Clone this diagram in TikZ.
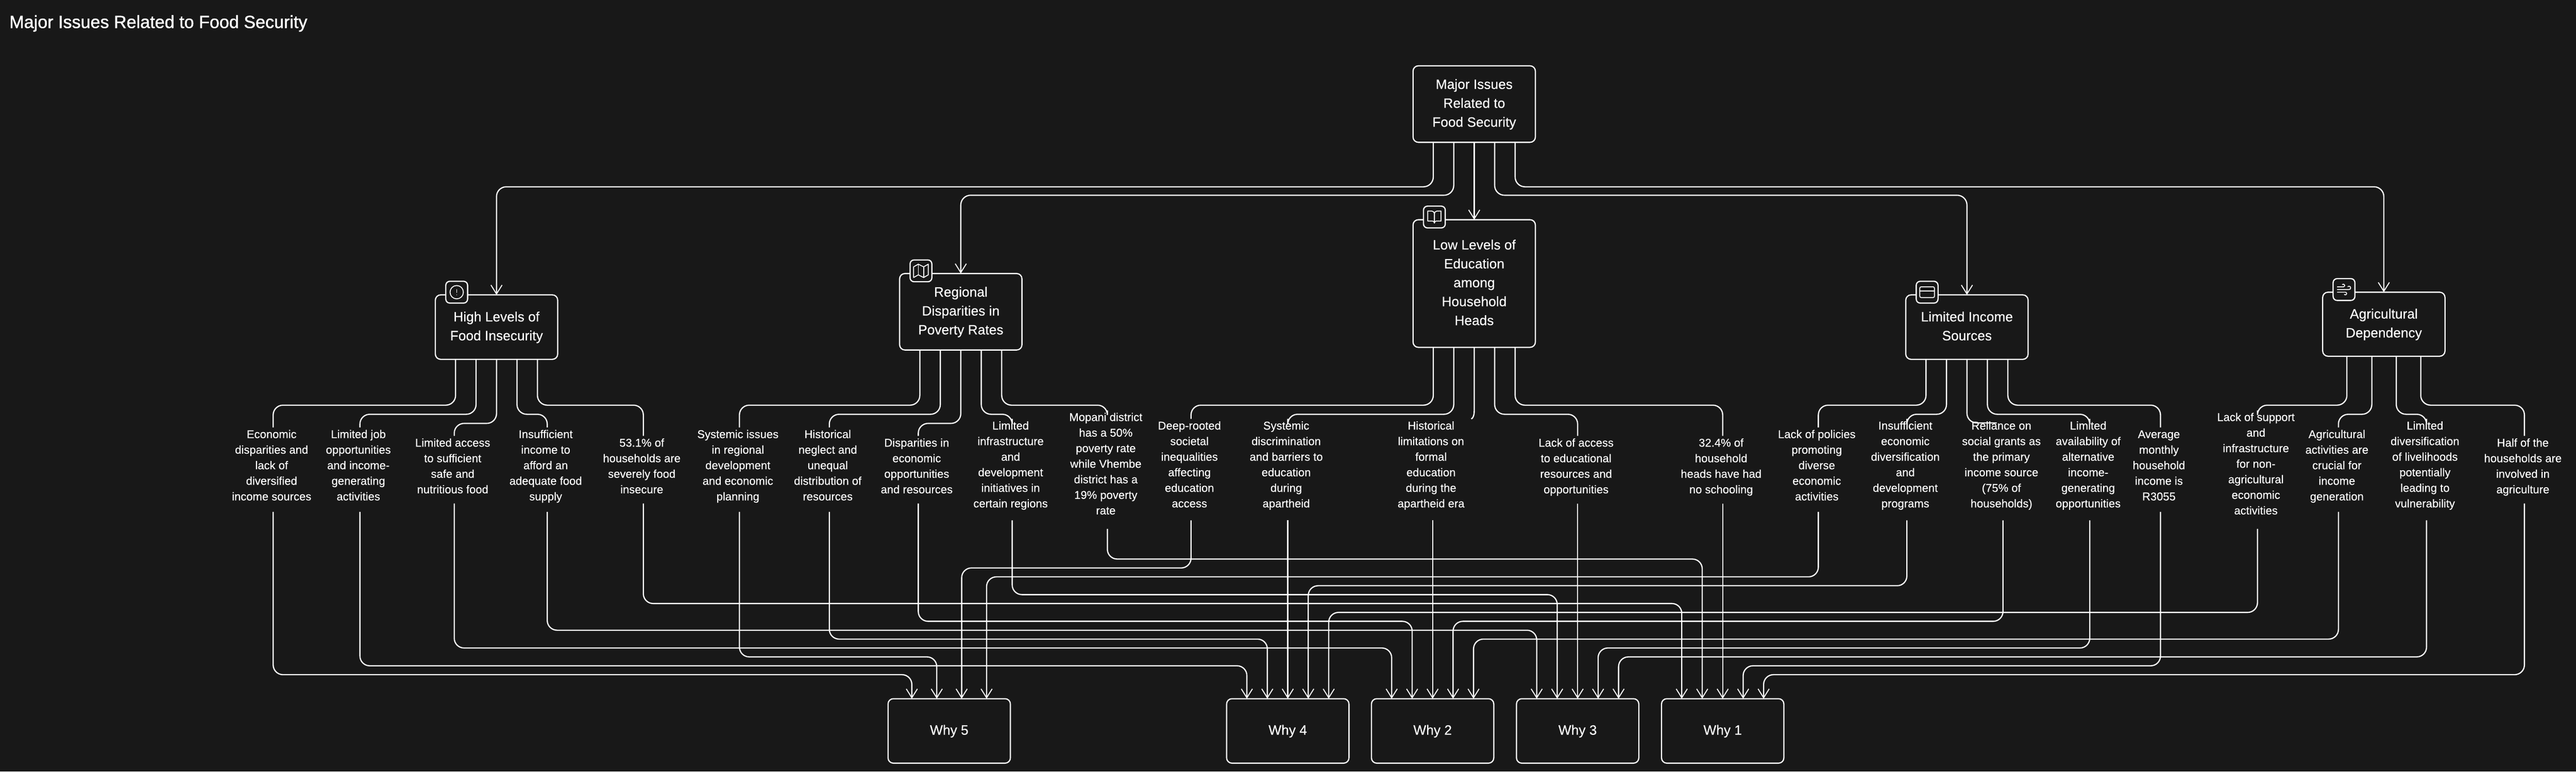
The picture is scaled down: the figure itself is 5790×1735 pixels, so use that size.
\documentclass[tikz,border=0pt]{standalone}
\usepackage{fontspec}
\setmainfont{Liberation Sans}[FakeBold=0.25]
\newfontfamily\titlefont{Liberation Sans}[FakeBold=1.2]
\usepackage{xcolor}
\usetikzlibrary{arrows.meta}
\definecolor{pagedark}{HTML}{181818}

\tikzset{
  boxnode/.style={draw=white, line width=2.7pt, rounded corners=12pt, minimum width=275pt,
    align=center, outer sep=0pt, inner sep=0pt, text=white, fill=pagedark,
    font=\fontsize{30.5}{42.5}\selectfont},
  leaf/.style={align=center, outer sep=0pt, inner sep=0pt, text=white,
    font=\fontsize{25.5}{35}\selectfont},
  iconbox/.style={draw=white, line width=2.7pt, rounded corners=9pt, minimum size=49pt,
    inner sep=0pt, outer sep=0pt, fill=pagedark},
  glyph/.style={shift={(#1)}, x=1.5pt, y=-1.5pt, xshift=-18pt, yshift=18pt,
    draw=white, line width=2pt, line join=round, line cap=round},
  link/.style={draw=white, line width=2.7pt, rounded corners=22pt},
  arrowlink/.style={link, -{Straight Barb[length=20pt, width=25pt, line width=2.2pt]}}
}
% text with fixed first and last line heights
\newcommand{\struttext}[1]{\strut#1\strut}
% leaf label with its two connector ends: id, x, number of lines, text
\newcommand{\leafnode}[4]{
  \pgfmathsetmacro{\halfspan}{95+19*(#3-5)}
  \pgfmathsetmacro{\ytext}{1049.8-1.7*(#3-4)}
  \coordinate (#1-t) at (#2,1056-\halfspan);
  \coordinate (#1-b) at (#2,1056+\halfspan);
  \node[leaf] (#1) at (#2-3.5,\ytext) {\struttext{#4}};
}

\begin{document}
\begin{tikzpicture}[x=1pt, y=-1pt]
  \fill[pagedark] (0,0) rectangle (5790,1735);
  \useasboundingbox (0,0) rectangle (5790,1735);
  \node[anchor=base west, inner sep=0pt, text=white, font=\titlefont\fontsize{39.5}{42}\selectfont] (title) at (21,63)
    {Major Issues Related to Food Security};

  % Main boxes
  \node[boxnode, minimum height=172pt] (root) at (3313.5,234) {\struttext{Major Issues\\Related to\\Food Security}};
  \node[boxnode, minimum height=145pt] (high) at (1116,735.5) {\struttext{High Levels of\\Food Insecurity}};
  \node[boxnode, minimum height=172pt] (regional) at (2159.5,701) {\struttext{Regional\\Disparities in\\Poverty Rates}};
  \node[boxnode, minimum height=287pt] (low) at (3313.5,637.5) {\struttext{Low Levels of\\Education\\among\\Household\\Heads}};
  \node[boxnode, minimum height=145pt] (income) at (4421,735.5) {\struttext{Limited Income\\Sources}};
  \node[boxnode, minimum height=144pt] (agri) at (5358,729) {\struttext{Agricultural\\Dependency}};

  % Why boxes and their arrow positions
  \node[boxnode, minimum height=145pt] (why5) at (2133.5,1643.5) {\struttext{Why 5}};
  \node[boxnode, minimum height=145pt] (why4) at (2894.5,1643.5) {\struttext{Why 4}};
  \node[boxnode, minimum height=145pt] (why2) at (3220,1643.5) {\struttext{Why 2}};
  \node[boxnode, minimum height=145pt] (why3) at (3546,1643.5) {\struttext{Why 3}};
  \node[boxnode, minimum height=145pt] (why1) at (3872,1643.5) {\struttext{Why 1}};
  \foreach \dx/\t in {-84/a, -28/b, 28/c, 84/d} {
    \coordinate (why5\t) at ([xshift=\dx pt]why5.north);
  }
  \foreach \w in {why4, why2, why3, why1} {
    \foreach \dx/\t in {-92/a, -46/b, 0/c, 46/d, 92/e} {
      \coordinate (\w\t) at ([xshift=\dx pt]\w.north);
    }
  }

  % Leaf labels
  \leafnode{eco}{614}{5}{Economic\\disparities and\\lack of\\diversified\\income sources}
  \leafnode{job}{809}{5}{Limited job\\opportunities\\and income-\\generating\\activities}
  \leafnode{access}{1021}{4}{Limited access\\to sufficient\\safe and\\nutritious food}
  \leafnode{insinc}{1230}{5}{Insufficient\\income to\\afford an\\adequate food\\supply}
  \leafnode{foodpct}{1446}{4}{53.1\% of\\households are\\severely food\\insecure}
  \leafnode{sysiss}{1662}{5}{Systemic issues\\in regional\\development\\and economic\\planning}
  \leafnode{neglect}{1864}{5}{Historical\\neglect and\\unequal\\distribution of\\resources}
  \leafnode{dispar}{2064}{4}{Disparities in\\economic\\opportunities\\and resources}
  \leafnode{infra}{2275}{6}{Limited\\infrastructure\\and\\development\\initiatives in\\certain regions}
  \leafnode{mopani}{2489}{7}{Mopani district\\has a 50\%\\poverty rate\\while Vhembe\\district has a\\19\% poverty\\rate}
  \leafnode{deep}{2677}{6}{Deep-rooted\\societal\\inequalities\\affecting\\education\\access}
  \leafnode{sysdisc}{2894.5}{6}{Systemic\\discrimination\\and barriers to\\education\\during\\apartheid}
  \leafnode{histlim}{3220}{6}{Historical\\limitations on\\formal\\education\\during the\\apartheid era}
  \leafnode{lackacc}{3546}{4}{Lack of access\\to educational\\resources and\\opportunities}
  \leafnode{school}{3872}{4}{32.4\% of\\household\\heads have had\\no schooling}
  \leafnode{lackpol}{4087}{5}{Lack of policies\\promoting\\diverse\\economic\\activities}
  \leafnode{insecon}{4286}{6}{Insufficient\\economic\\diversification\\and\\development\\programs}
  \leafnode{reliance}{4502}{6}{Reliance on\\social grants as\\the primary\\income source\\(75\% of\\households)}
  \leafnode{avail}{4697}{6}{Limited\\availability of\\alternative\\income-\\generating\\opportunities}
  \leafnode{avg}{4856}{5}{Average\\monthly\\household\\income is\\R3055}
  \leafnode{lacksup}{5074}{7}{Lack of support\\and\\infrastructure\\for non-\\agricultural\\economic\\activities}
  \leafnode{agriact}{5256}{5}{Agricultural\\activities are\\crucial for\\income\\generation}
  \leafnode{livediv}{5454}{6}{Limited\\diversification\\of livelihoods\\potentially\\leading to\\vulnerability}
  \leafnode{half}{5674}{4}{Half of the\\households are\\involved in\\agriculture}

  % Bus levels
  \coordinate (busP) at (0,420);
  \coordinate (busQ) at (0,439);
  \coordinate (busA) at (0,911);
  \coordinate (busB) at (0,931.5);
  \coordinate (busC) at (0,952);
  \foreach \i in {0,...,13} {
    \pgfmathsetmacro{\busy}{1257+20*\i}
    \coordinate (bus\i) at (0,\busy);
  }

  % Root edges
  \draw[arrowlink] ([xshift=-92pt]root.south) |- (high.north |- busP) -- (high.north);
  \draw[arrowlink] ([xshift=-46pt]root.south) |- (regional.north |- busQ) -- (regional.north);
  \draw[arrowlink] (root.south) -- (low.north);
  \draw[arrowlink] ([xshift=46pt]root.south) |- (income.north |- busQ) -- (income.north);
  \draw[arrowlink] ([xshift=92pt]root.south) |- (agri.north |- busP) -- (agri.north);

  % Edges down to the leaves
  \foreach \p/\dx/\bus/\leaf in {
    high/-92/busA/eco, high/-46/busB/job, high/0/busC/access, high/46/busB/insinc, high/92/busA/foodpct,
    regional/-92/busA/sysiss, regional/-46/busB/neglect, regional/0/busC/dispar, regional/46/busB/infra, regional/92/busA/mopani,
    low/-92/busA/deep, low/-46/busB/sysdisc, low/46/busB/lackacc, low/92/busA/school,
    income/-92/busA/lackpol, income/-46/busB/insecon, income/46/busB/avail, income/92/busA/avg,
    agri/-83/busA/lacksup, agri/-27/busB/agriact, agri/28/busB/livediv, agri/83/busA/half} {
    \draw[link] ([xshift=\dx pt]\p.south) |- (\leaf-t |- \bus) -- (\leaf-t);
  }
  \coordinate (histcut) at (3307,942);
  \draw[link, sharp corners] (low.south) -- (3313.5,924) .. controls (3313.5,934) and (3311,940) .. (histcut);
  \coordinate (reliancecut) at (4488,951);
  \draw[link] (income.south) |- (reliancecut);

  % Edges down to the why boxes
  \foreach \leaf/\bus/\tip in {
    mopani/0/why1b, deep/1/why5c, lackpol/2/why5d, insecon/3/why4d, infra/4/why3b,
    foodpct/5/why1a, lacksup/6/why4e, dispar/7/why2b, reliance/7/why2d, insinc/8/why3a,
    neglect/9/why4b, agriact/9/why2e, access/10/why2a, avail/10/why3d, sysiss/11/why5b,
    livediv/11/why3e, job/12/why4a, avg/12/why1d, eco/13/why5a, half/13/why1e} {
    \draw[arrowlink] (\leaf-b) |- (\tip |- bus\bus) -- (\tip);
  }
  \foreach \leaf/\tip in {sysdisc/why4c, histlim/why2c, lackacc/why3c, school/why1c} {
    \draw[arrowlink] (\leaf-b) -- (\tip);
  }

  % Icon badges
  \node[iconbox] (iconhigh) at ([xshift=48pt,yshift=6pt]high.north west) {};
  \node[iconbox] (iconregional) at ([xshift=48pt,yshift=6pt]regional.north west) {};
  \node[iconbox] (iconlow) at ([xshift=48pt,yshift=6pt]low.north west) {};
  \node[iconbox] (iconincome) at ([xshift=48pt,yshift=6pt]income.north west) {};
  \node[iconbox] (iconagri) at ([xshift=48pt,yshift=6pt]agri.north west) {};
  \begin{scope}[glyph=iconhigh.center]
    \draw (12,12) circle[radius=10];
    \draw (12,8) -- (12,12.5);
    \draw (12,16) -- (12,16.01);
  \end{scope}
  \begin{scope}[glyph=iconregional.center]
    \draw (1,6) -- (1,22) -- (8,18) -- (16,22) -- (23,18) -- (23,2) -- (16,6) -- (8,2) -- cycle;
    \draw (8,2) -- (8,18);
    \draw (16,6) -- (16,22);
  \end{scope}
  \begin{scope}[glyph=iconlow.center]
    \draw (2,3) -- (8,3) .. controls (10.2,3) and (12,4.8) .. (12,7) -- (12,21)
      .. controls (12,19.3) and (10.7,18) .. (9,18) -- (2,18) -- cycle;
    \draw (22,3) -- (16,3) .. controls (13.8,3) and (12,4.8) .. (12,7) -- (12,21)
      .. controls (12,19.3) and (13.3,18) .. (15,18) -- (22,18) -- cycle;
  \end{scope}
  \begin{scope}[glyph=iconincome.center]
    \draw[rounded corners=3pt] (1,4) rectangle (23,20);
    \draw (1,10) -- (23,10);
  \end{scope}
  \begin{scope}[glyph=iconagri.center]
    \draw (2,8) -- (11,8) .. controls (12.1,8) and (13,7.1) .. (13,6)
      .. controls (13,4.9) and (12.1,4) .. (11,4) .. controls (10.5,4) and (10,4.2) .. (9.59,4.59);
    \draw (2,16) -- (14,16) .. controls (15.1,16) and (16,16.9) .. (16,18)
      .. controls (16,19.1) and (15.1,20) .. (14,20) .. controls (13.5,20) and (13,19.8) .. (12.59,19.41);
    \draw (2,12) -- (19.5,12) .. controls (20.9,12) and (22,10.9) .. (22,9.5)
      .. controls (22,8.1) and (20.9,7) .. (19.5,7) .. controls (18.8,7) and (18.2,7.3) .. (17.73,7.73);
  \end{scope}
\end{tikzpicture}
\end{document}
